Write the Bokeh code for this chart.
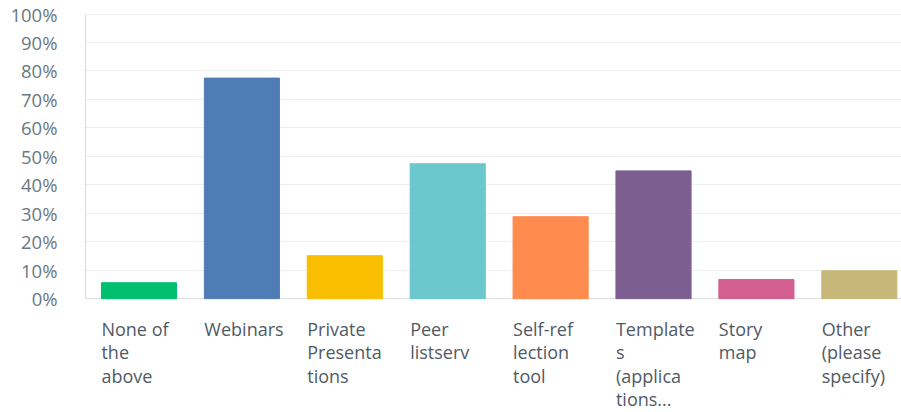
from bokeh.plotting import figure
from bokeh.models import Range1d, FixedTicker, ColumnDataSource, Grid
from bokeh.core.properties import value
from bokeh.embed import file_html
from bokeh.resources import INLINE

categories = ["None of\nthe\nabove", "Webinars", "Private\nPresenta\ntions", "Peer\nlistserv",
              "Self-ref\nlection\ntool", "Template\ns\n(applica\ntions...", "Story\nmap", "Other\n(please\nspecify)"]
values = [5.6, 77.5, 15.1, 47.4, 28.8, 44.9, 6.7, 9.8]
colors = ["#00bf6f", "#507cb6", "#f9be00", "#6bc8cd", "#ff8b4f", "#7d5e90", "#d25f90", "#c7b879"]
y_ticks = [0, 10, 20, 30, 40, 50, 60, 70, 80, 90, 100]

idx = list(range(len(categories)))
bar_w = 0.73
src = ColumnDataSource(dict(x=idx, top=values, color=colors,
                            lx=[i - bar_w / 2 for i in idx], label=categories,
                            ly=[-6.3] * len(idx)))

p = figure(frame_width=816, frame_height=397, output_backend="svg", toolbar_location=None,
           x_range=Range1d(-0.52, 7.41), y_range=Range1d(-39.3, 100.2),
           min_border_left=85, min_border_right=0, min_border_top=13, min_border_bottom=2)
p.outline_line_color = None
p.xaxis.visible = False
p.xgrid.visible = False

ya = p.yaxis[0]
ya.ticker = FixedTicker(ticks=y_ticks)
ya.major_label_overrides = {t: f"{t}%" for t in y_ticks}
ya.bounds = (0, 100)
ya.axis_line_color = "#d9d9d9"
ya.major_tick_line_color = None
ya.minor_tick_line_color = None
ya.major_label_standoff = 22
ya.major_label_text_font = "Open Sans"
ya.major_label_text_font_size = "18.5px"
ya.major_label_text_color = "#6b787f"

p.ygrid.ticker = FixedTicker(ticks=y_ticks)
p.ygrid.grid_line_color = "#eeeeee"
p.ygrid.grid_line_width = 1
base = Grid(dimension=1, ticker=FixedTicker(ticks=[0]), grid_line_color="#dcdcdc")
p.add_layout(base)

p.vbar(x="x", top="top", bottom=0, width=bar_w, fill_color="color", line_color="color", source=src)

p.text(x="lx", y="ly", text="label", source=src, text_font=value("Open Sans"),
       text_font_size="18px", text_color="#4f5a66", text_align="left", text_baseline="top",
       text_line_height=0.98)

open("out.html", "w").write(file_html(p, INLINE))
